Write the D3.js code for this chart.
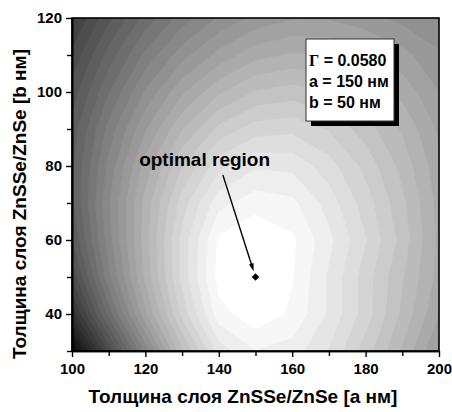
<!DOCTYPE html>
<html>
<head>
<meta charset="utf-8">
<script src="https://cdn.jsdelivr.net/npm/d3@7"></script>
<style>
  body { margin: 0; background: #fff; }
  text { font-family: Arial, "Liberation Sans", sans-serif; font-weight: bold; fill: #000; }
</style>
</head>
<body>
<svg id="chart" width="452" height="412"></svg>
<script>
// Layer thicknesses (nm) on the calculation grid
const thicknessA = [100, 110, 120, 130, 140, 150, 160, 170, 180, 190, 200];
const thicknessB = [30, 40, 50, 60, 70, 80, 90, 100, 110, 120];

// Optical confinement factor Γ, one row per thickness b
const gammaB30  = [0.0041, 0.0181, 0.0310, 0.0429, 0.0515, 0.0543, 0.0535, 0.0505, 0.0461, 0.0412, 0.0358];
const gammaB40  = [0.0127, 0.0257, 0.0375, 0.0476, 0.0554, 0.0574, 0.0558, 0.0522, 0.0479, 0.0429, 0.0379];
const gammaB50  = [0.0181, 0.0300, 0.0401, 0.0494, 0.0569, 0.0580, 0.0563, 0.0522, 0.0479, 0.0435, 0.0390];
const gammaB60  = [0.0213, 0.0315, 0.0407, 0.0494, 0.0565, 0.0578, 0.0565, 0.0530, 0.0489, 0.0444, 0.0392];
const gammaB70  = [0.0228, 0.0321, 0.0403, 0.0479, 0.0537, 0.0554, 0.0548, 0.0517, 0.0479, 0.0438, 0.0390];
const gammaB80  = [0.0228, 0.0310, 0.0386, 0.0451, 0.0500, 0.0522, 0.0520, 0.0496, 0.0464, 0.0427, 0.0384];
const gammaB90  = [0.0220, 0.0293, 0.0358, 0.0414, 0.0457, 0.0479, 0.0483, 0.0468, 0.0442, 0.0412, 0.0375];
const gammaB100 = [0.0203, 0.0267, 0.0326, 0.0375, 0.0412, 0.0435, 0.0442, 0.0433, 0.0414, 0.0390, 0.0360];
const gammaB110 = [0.0181, 0.0239, 0.0291, 0.0334, 0.0366, 0.0390, 0.0399, 0.0397, 0.0384, 0.0366, 0.0345];
const gammaB120 = [0.0155, 0.0209, 0.0257, 0.0295, 0.0326, 0.0347, 0.0358, 0.0358, 0.0349, 0.0336, 0.0321];

// Optimum design point: [a, b, Γ]
const optimum = [150, 50, 0.0580];

// Axis ticks
const xTicksMajor = [100, 120, 140, 160, 180, 200];
const xTicksMinor = [110, 130, 150, 170, 190];
const yTicksMajor = [40, 60, 80, 100, 120];
const yTicksMinor = [30, 50, 70, 90, 110];

// Contour levels and colour range
const gammaRange = [0.0030, 0.0580];
const levelCount = 30;

const svg = d3.select("#chart");
const margin = { left: 72, right: 13, top: 18, bottom: 61 };
const W = 452, H = 412;

const x = d3.scaleLinear().domain([100, 200]).range([margin.left, W - margin.right]);
const y = d3.scaleLinear().domain([30, 120]).range([H - margin.bottom, margin.top]);

const rows = [gammaB30, gammaB40, gammaB50, gammaB60, gammaB70,
              gammaB80, gammaB90, gammaB100, gammaB110, gammaB120];
const n = thicknessA.length, m = thicknessB.length;
const values = rows.flat();

const step = (gammaRange[1] - gammaRange[0]) / levelCount;
const thresholds = d3.range(levelCount).map(i => gammaRange[0] + i * step);
const gray = v => {
  const g = Math.round(255 * Math.max(0, Math.min(1, (v - gammaRange[0]) / (gammaRange[1] - gammaRange[0]))));
  return d3.rgb(g, g, g).formatHex();
};

const contours = d3.contours().size([n, m]).thresholds(thresholds)(values);

// grid cell centres -> thickness values
const gridA = d3.scaleLinear().domain([0.5, n - 0.5]).range([thicknessA[0], thicknessA[n - 1]]);
const gridB = d3.scaleLinear().domain([0.5, m - 0.5]).range([thicknessB[0], thicknessB[m - 1]]);
const proj = d3.geoTransform({
  point(px, py) { this.stream.point(x(gridA(px)), y(gridB(py))); }
});
const path = d3.geoPath(proj);

svg.append("clipPath").attr("id", "plotClip")
  .append("rect")
  .attr("x", x(100)).attr("y", y(120))
  .attr("width", x(200) - x(100)).attr("height", y(30) - y(120));

const field = svg.append("g").attr("clip-path", "url(#plotClip)");
field.append("rect")
  .attr("x", x(100)).attr("y", y(120))
  .attr("width", x(200) - x(100)).attr("height", y(30) - y(120))
  .attr("fill", "#000");
field.selectAll("path")
  .data(contours)
  .join("path")
  .attr("d", path)
  .attr("fill", d => gray(d.value + step))
  .attr("stroke", d => gray(d.value + step))
  .attr("stroke-width", 0.4);

// Frame
svg.append("rect")
  .attr("x", x(100)).attr("y", y(120))
  .attr("width", x(200) - x(100)).attr("height", y(30) - y(120))
  .attr("fill", "none").attr("stroke", "#000").attr("stroke-width", 1.6);

// Axes
svg.append("g").attr("transform", `translate(0,${y(30)})`)
  .call(d3.axisBottom(x).tickValues(xTicksMajor).tickSize(6).tickPadding(6).tickSizeOuter(0).tickFormat(d3.format("d")));
svg.append("g").attr("transform", `translate(0,${y(30)})`)
  .call(d3.axisBottom(x).tickValues(xTicksMinor).tickSize(5).tickSizeOuter(0).tickFormat(""));
svg.append("g").attr("transform", `translate(${x(100)},0)`)
  .call(d3.axisLeft(y).tickValues(yTicksMajor).tickSize(6).tickPadding(4).tickSizeOuter(0).tickFormat(d3.format("d")));
svg.append("g").attr("transform", `translate(${x(100)},0)`)
  .call(d3.axisLeft(y).tickValues(yTicksMinor).tickSize(5).tickSizeOuter(0).tickFormat(""));

svg.selectAll(".domain").attr("stroke", "#000").attr("stroke-width", 1.6);
svg.selectAll(".tick line").attr("stroke", "#000").attr("stroke-width", 1.4);
svg.selectAll(".tick text")
  .style("font-family", "Arial, 'Liberation Sans', sans-serif")
  .style("font-weight", "bold").style("font-size", "15px").attr("fill", "#000");

// Axis titles
svg.append("text")
  .attr("x", 243).attr("y", 403)
  .attr("text-anchor", "middle")
  .style("font-size", "19px")
  .text("Толщина слоя ZnSSe/ZnSe [а нм]");
svg.append("text")
  .attr("transform", "translate(26,204) rotate(-90)")
  .attr("text-anchor", "middle")
  .style("font-size", "19px")
  .text("Толщина слоя ZnSSe/ZnSe [b нм]");

// Optimum marker
const px = x(optimum[0]), py = y(optimum[1]);
svg.append("path")
  .attr("d", d3.symbol(d3.symbolSquare, 28)())
  .attr("transform", `translate(${px},${py}) rotate(45)`)
  .attr("fill", "#000");

// Annotation with arrow
const labelPos = [118.3, 80];
const arrowFrom = [141.1, 77.6];
const ax0 = x(arrowFrom[0]), ay0 = y(arrowFrom[1]);
const dx = px - ax0, dy = py - ay0, len = Math.hypot(dx, dy);
const ux = dx / len, uy = dy / len;
const tipX = px - ux * 6, tipY = py - uy * 6;
const headL = 8, headW = 2.4;
svg.append("line")
  .attr("x1", ax0).attr("y1", ay0)
  .attr("x2", tipX - ux * headL * 0.8).attr("y2", tipY - uy * headL * 0.8)
  .attr("stroke", "#000").attr("stroke-width", 1.4);
svg.append("path")
  .attr("d", `M${tipX},${tipY} L${tipX - ux * headL - uy * headW},${tipY - uy * headL + ux * headW} L${tipX - ux * headL + uy * headW},${tipY - uy * headL - ux * headW} Z`)
  .attr("fill", "#000");
svg.append("text")
  .attr("x", x(labelPos[0])).attr("y", y(labelPos[1]))
  .style("font-size", "19px")
  .text("optimal region");

// Parameter box with drop shadow
const box = { x: 306, y: 39, w: 88, h: 82 };
svg.append("rect")
  .attr("x", box.x + 5).attr("y", box.y + 5).attr("width", box.w).attr("height", box.h)
  .attr("fill", "#000");
svg.append("rect")
  .attr("x", box.x).attr("y", box.y).attr("width", box.w).attr("height", box.h)
  .attr("fill", "#fff").attr("stroke", "#333").attr("stroke-width", 1);
const boxLines = [
  ["Γ", ` = ${optimum[2].toFixed(4)}`],
  ["", `a = ${optimum[0]} нм`],
  ["", `b = ${optimum[1]} нм`]
];
const boxText = svg.append("g").selectAll("text")
  .data(boxLines)
  .join("text")
  .attr("x", box.x + 3)
  .attr("y", (d, i) => box.y + 27 + i * 21)
  .style("font-size", "16px");
boxText.append("tspan")
  .style("font-family", "'Liberation Serif', 'Times New Roman', serif")
  .text(d => d[0]);
boxText.append("tspan").text(d => d[1]);
</script>
</body>
</html>
